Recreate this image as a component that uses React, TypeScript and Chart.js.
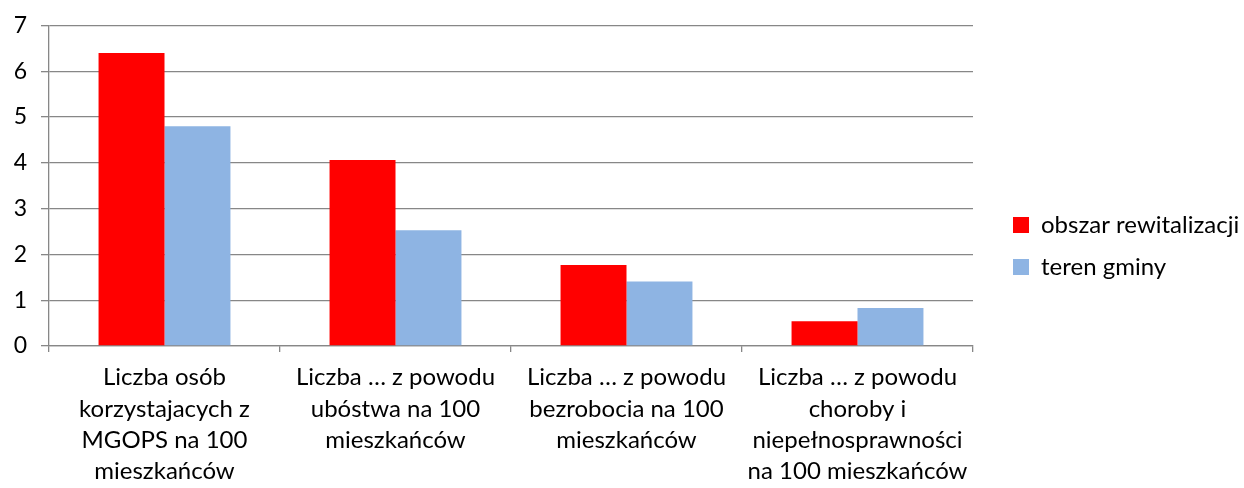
import React, { useEffect, useRef } from "react";
import { Chart, registerables } from "chart.js";

Chart.register(...registerables);

const categories: string[][] = [
  ["Liczba osób", "korzystajacych z", "MGOPS na 100", "mieszkańców"],
  ["Liczba … z powodu", "ubóstwa na 100", "mieszkańców"],
  ["Liczba … z powodu", "bezrobocia na 100", "mieszkańców"],
  ["Liczba … z powodu", "choroby i", "niepełnosprawności", "na 100 mieszkańców"],
];
const obszarRewitalizacji = [6.4, 4.06, 1.77, 0.54];
const terenGminy = [4.8, 2.53, 1.41, 0.83];
const seriesNames = ["obszar rewitalizacji", "teren gminy"];

const FONT = "Lato, 'Noto Sans', sans-serif";
const GRID = "#878787";

// widen the legend box and shift its items so the plot ends where the reference does
const legendLayout = {
  id: "legendLayout",
  beforeInit(chart: any) {
    const lg = chart.legend;
    if (!lg) return;
    const origFit = lg.fit.bind(lg);
    lg.fit = function () {
      origFit();
      this.width = 271;
    };
    const origDraw = lg.draw.bind(lg);
    lg.draw = function () {
      const shift = 22;
      this.left += shift;
      origDraw();
      this.left -= shift;
    };
  },
};

export default function App() {
  const ref = useRef<HTMLCanvasElement | null>(null);
  useEffect(() => {
    if (!ref.current) return;
    const chart = new Chart(ref.current, {
      type: "bar",
      data: {
        labels: categories,
        datasets: [
          {
            label: seriesNames[0],
            data: obszarRewitalizacji,
            backgroundColor: "#FF0000",
            categoryPercentage: 0.571,
            barPercentage: 1,
          },
          {
            label: seriesNames[1],
            data: terenGminy,
            backgroundColor: "#8EB4E3",
            categoryPercentage: 0.571,
            barPercentage: 1,
          },
        ],
      },
      options: {
        animation: false,
        responsive: true,
        maintainAspectRatio: false,
        layout: { padding: { top: 4, right: 0, left: 0, bottom: 0 } },
        plugins: {
          tooltip: { enabled: false },
          legend: {
            position: "right",
            align: "center",
            labels: {
              boxWidth: 16,
              boxHeight: 16,
              padding: 18,
              color: "#000",
              font: { family: FONT, size: 24 },
            },
          },
        },
        scales: {
          x: {
            grid: {
              drawOnChartArea: false,
              drawTicks: true,
              tickLength: 6,
              color: GRID,
              lineWidth: 1.3,
            },
            border: { display: true, color: GRID, width: 1.3 },
            ticks: {
              color: "#000",
              font: { family: FONT, size: 24, lineHeight: 1.3 },
              padding: 10,
              maxRotation: 0,
              autoSkip: false,
            },
            afterFit: (s: any) => {
              s.height = 142;
            },
          },
          y: {
            min: 0,
            max: 7,
            ticks: {
              stepSize: 1,
              color: "#000",
              font: { family: FONT, size: 23, lineHeight: 1 },
              padding: 14,
            },
            grid: { color: GRID, lineWidth: 1.3, tickLength: 8 },
            border: { display: true, color: GRID, width: 1.3 },
            afterFit: (s: any) => {
              s.width = 49;
            },
          },
        },
      },
      plugins: [legendLayout],
    });
    return () => chart.destroy();
  }, []);
  return (
    <div style={{ position: "fixed", left: 0, top: 0, width: 1244, height: 488, background: "#fff" }}>
      <canvas ref={ref} />
    </div>
  );
}
